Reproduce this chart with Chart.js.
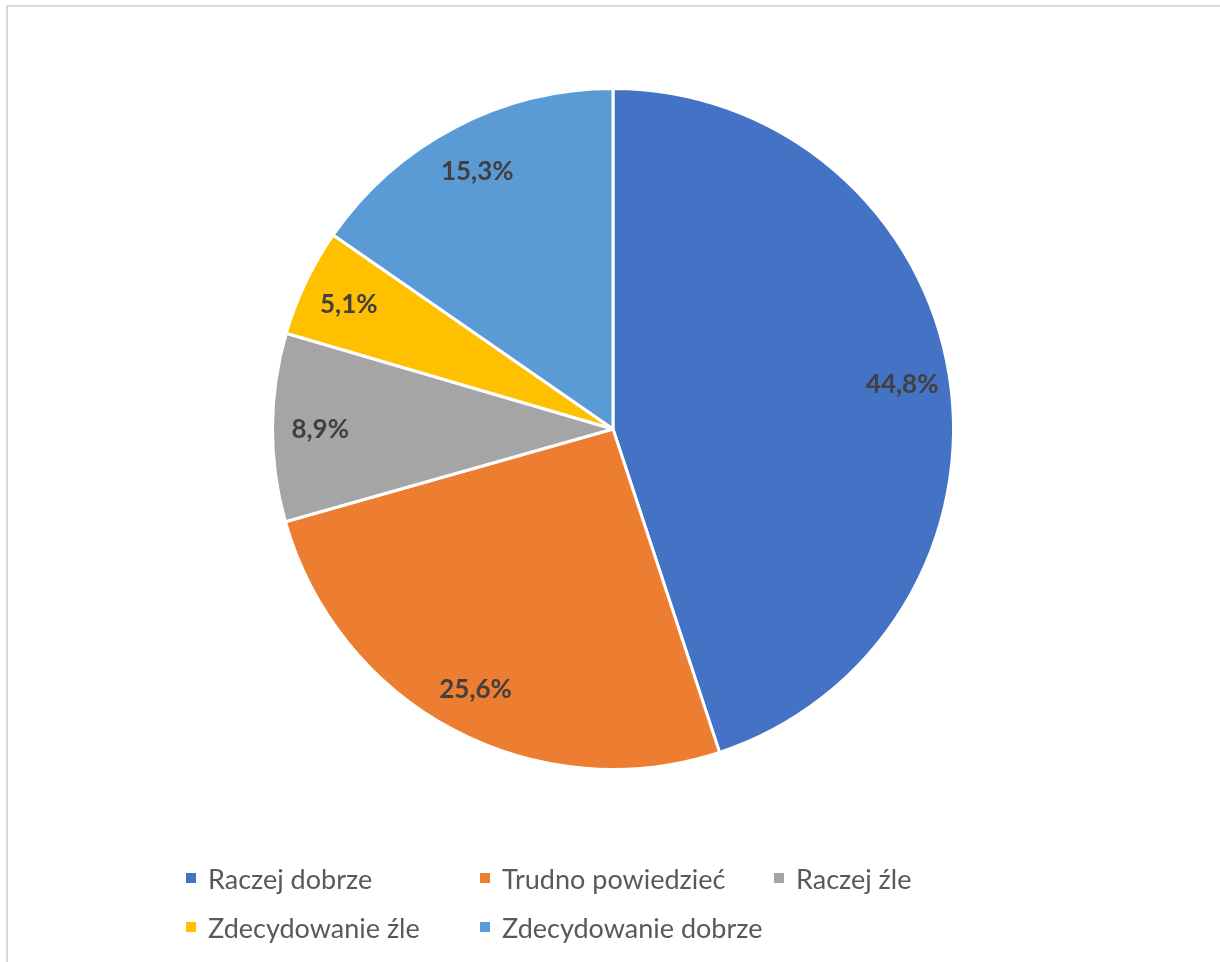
<!DOCTYPE html>
<html>
<head>
<meta charset="utf-8">
<script src="https://cdn.jsdelivr.net/npm/chart.js@4"></script>
<style>
  html, body { margin:0; padding:0; background:#fff; width:1220px; height:962px; overflow:hidden; }
  #frame { position:absolute; left:6px; top:5px; width:1300px; height:1000px; border-left:2px solid #d9d9d9; border-top:2px solid #d9d9d9; }
  #wrap { position:absolute; left:0; top:0; width:1220px; height:962px; }
  #legend { position:absolute; left:186px; top:858px; font-family:Lato, "Open Sans", sans-serif; font-size:27px; color:#595959; }
  .item { position:absolute; white-space:nowrap; display:flex; align-items:center; height:40px; }
  .sw { width:10px; height:10px; margin-right:12px; }
</style>
</head>
<body>
<div id="frame"></div>
<div id="wrap"><canvas id="c" width="1220" height="962"></canvas></div>
<div id="legend"></div>
<script>
const categories = ["Raczej dobrze", "Trudno powiedzieć", "Raczej źle", "Zdecydowanie źle", "Zdecydowanie dobrze"];
const values = [44.8, 25.6, 8.9, 5.1, 15.3];
const valueLabels = ["44,8%", "25,6%", "8,9%", "5,1%", "15,3%"];
const colors = ["#4472C4", "#ED7D31", "#A5A5A5", "#FFC000", "#5B9BD5"];

const labelPlugin = {
  id: 'sliceLabels',
  afterDatasetsDraw(chart) {
    const ctx = chart.ctx;
    const meta = chart.getDatasetMeta(0);
    ctx.save();
    ctx.font = 'bold 26px Lato, "Open Sans", sans-serif';
    ctx.fillStyle = '#404040';
    ctx.textAlign = 'center';
    ctx.textBaseline = 'middle';
    meta.data.forEach((arc, i) => {
      const p = arc.getProps(['x','y','startAngle','endAngle','outerRadius']);
      const mid = (p.startAngle + p.endAngle) / 2;
      const r = p.outerRadius * 0.86;
      ctx.fillText(valueLabels[i], p.x + Math.cos(mid) * r, p.y + Math.sin(mid) * r + 2);
    });
    ctx.restore();
  }
};

new Chart(document.getElementById('c'), {
  type: 'pie',
  data: {
    labels: categories,
    datasets: [{ data: values, backgroundColor: colors, borderColor: '#ffffff', borderWidth: 3 }]
  },
  options: {
    responsive: false,
    animation: false,
    layout: { padding: { top: 87, bottom: 191, left: 271, right: 265 } },
    plugins: { legend: { display: false }, tooltip: { enabled: false } }
  },
  plugins: [labelPlugin]
});

const legend = document.getElementById('legend');
const colW = 294, rowH = 49, perRow = 3;
categories.forEach((name, i) => {
  const d = document.createElement('div');
  d.className = 'item';
  d.style.left = (i % perRow) * colW + 'px';
  d.style.top = Math.floor(i / perRow) * rowH + 'px';
  d.innerHTML = '<span class="sw" style="background:' + colors[i] + '"></span><span>' + name + '</span>';
  legend.appendChild(d);
});
</script>
</body>
</html>
